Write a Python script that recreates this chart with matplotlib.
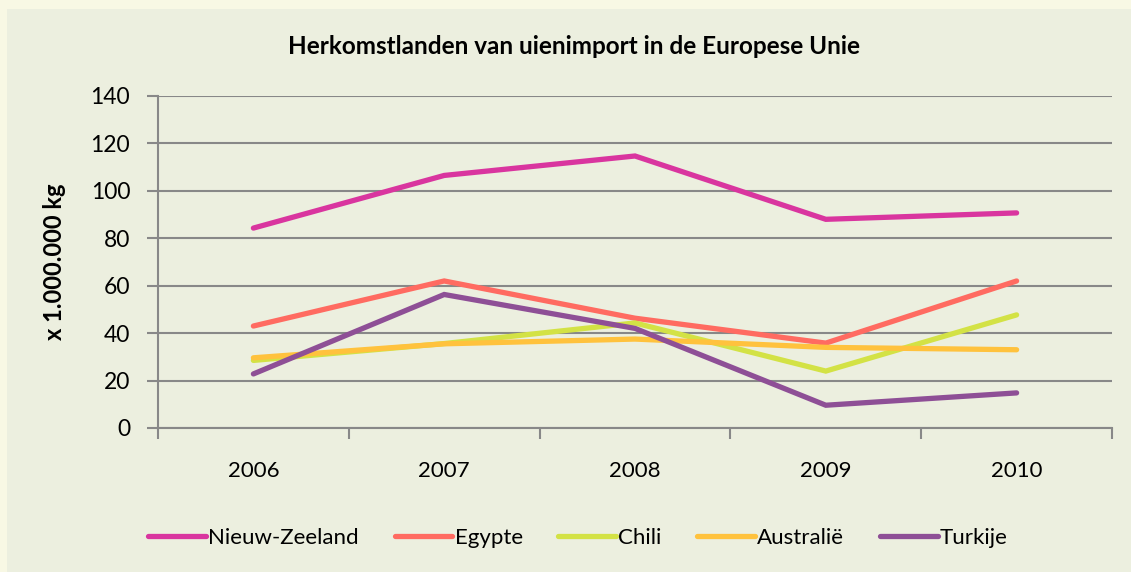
import matplotlib.pyplot as plt
from matplotlib.patches import Rectangle

plt.rcParams['font.family'] = ['Lato', 'DejaVu Sans']

years = ['2006', '2007', '2008', '2009', '2010']
nieuw_zeeland = [84.3, 106.5, 114.7, 88.0, 90.7]
egypte = [43.0, 62.0, 46.3, 35.8, 62.0]
chili = [28.5, 35.6, 44.3, 24.0, 47.7]
australie = [29.6, 35.5, 37.5, 34.0, 33.0]
turkije = [22.8, 56.3, 42.0, 9.6, 14.8]

series = [
    ('Nieuw-Zeeland', nieuw_zeeland, '#D9359F'),
    ('Egypte', egypte, '#FF6B61'),
    ('Chili', chili, '#D3E245'),
    ('Australië', australie, '#FFC23D'),
    ('Turkije', turkije, '#8E4F96'),
]

W, H = 1131, 572
fig = plt.figure(figsize=(W / 100, H / 100), dpi=100)
fig.patch.set_facecolor('#F8F8E4')
# chart area panel
fig.patches.append(Rectangle((7 / W, 0), 1, 1 - 9 / H, transform=fig.transFigure,
                             facecolor='#ECEFDF', edgecolor='none', zorder=-10))

ax = fig.add_axes([158 / W, 1 - 428 / H, (1112 - 158) / W, (428 - 96) / H])
ax.set_facecolor('none')

x = list(range(len(years)))
for name, vals, col in series:
    ax.plot(x, vals, color=col, lw=3.8, label=name, solid_capstyle='round',
            solid_joinstyle='miter', zorder=3)

ax.set_ylim(0, 140)
ax.set_yticks(range(0, 141, 20))
ax.set_xlim(-0.5, len(years) - 0.5)
ax.set_xticks([i - 0.5 for i in range(len(years) + 1)])
ax.set_xticklabels([])
ax.set_xticks(x, minor=True)
ax.set_xticklabels(years, minor=True)
ax.tick_params(axis='x', which='major', length=8, width=1.5, color='#888888', direction='out')
ax.tick_params(axis='x', which='minor', length=0, pad=24, labelsize=16)
ax.tick_params(axis='y', length=8, width=1.5, color='#888888', direction='out',
               labelsize=16.5, pad=12)

ax.grid(axis='y', color='#888888', lw=1.5, zorder=1)
ax.set_axisbelow(True)
for s in ['top', 'right']:
    ax.spines[s].set_visible(False)
for s in ['left', 'bottom']:
    ax.spines[s].set_color('#888888')
    ax.spines[s].set_linewidth(1.5)

ax.set_ylabel('x 1.000.000 kg', fontsize=17, fontweight='bold', labelpad=18)
fig.text(574 / W, 1 - 47 / H, 'Herkomstlanden van uienimport in de Europese Unie',
         ha='center', va='center', fontsize=17.5, fontweight='bold')

fig.legend(loc='center', bbox_to_anchor=(578 / W, 1 - 538 / H), ncol=5, frameon=False,
           fontsize=16, handlelength=2.6, handletextpad=0.1, columnspacing=1.6)

fig.savefig('out.png', dpi=100, facecolor=fig.get_facecolor())
